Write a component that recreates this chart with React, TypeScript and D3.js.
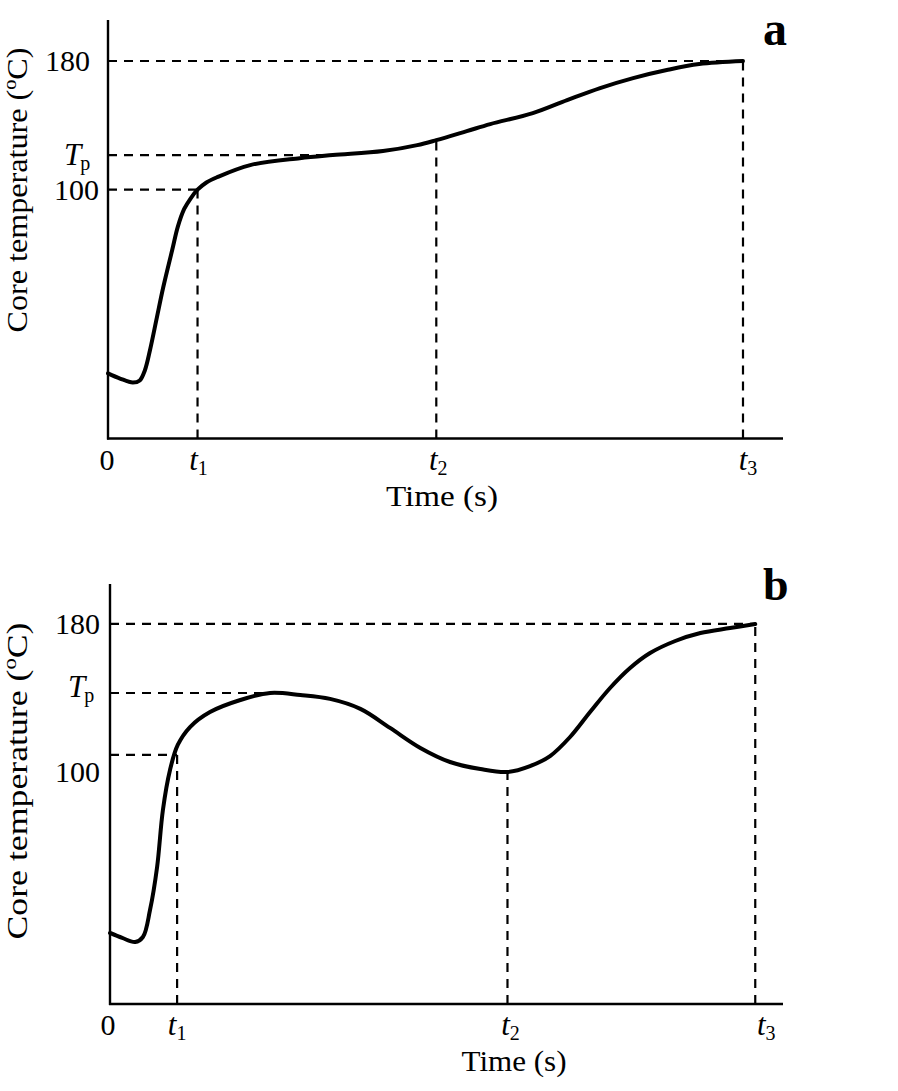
import React from "react";
import * as d3 from "d3";

// ---------- DATA ----------
// Panel a: core temperature curve (time in arbitrary units, t3 = 100)
const timeA = [0, 1.9, 3.9, 5.0, 5.8, 6.6, 7.7, 8.7, 10.1, 11.0, 12.0, 13.0, 14.1, 15.5, 17.2, 22.4, 30.2, 35.4, 43.3, 48.7, 51.7, 56.5, 60.2, 66.9, 72.3, 77.5, 82.7, 88.0, 93.1, 100];
const tempA = [-14.2, -17.4, -19.9, -18.6, -12.4, 0, 20.6, 39.3, 62.3, 77.0, 88.0, 94.5, 100, 104.5, 107.8, 115.3, 119.6, 121.5, 124.0, 127.7, 130.8, 136.4, 140.8, 147.6, 155.7, 163.2, 169.4, 174.4, 178.1, 180];
const levelTempsA = [180, 121.5, 100];
const levelEndTimesA = [100, 35.4, 14.1];
const markTimesA = [14.1, 51.7, 100];
const markTempsA = [100, 130.8, 180];
const yTickValuesA = [180, 121.5, 100];
const xDomainA = [0, 106.3];
const yDomainA = [-54.7, 205.5];

// Panel b
const timeB = [0, 1.9, 3.9, 5.1, 6.2, 7.3, 8.2, 9.3, 10.5, 12.4, 15.5, 20.2, 24.8, 29.5, 34.1, 38.8, 43.4, 48.1, 52.7, 57.4, 61.6, 65.1, 68.2, 71.3, 74.4, 77.5, 80.6, 83.7, 87.6, 91.5, 96.1, 100];
const tempB = [13.0, 10.3, 8.1, 10.8, 25.4, 48.7, 79.5, 101.1, 114.6, 124.3, 132.4, 138.9, 142.7, 141.6, 139.5, 134.1, 123.8, 113.0, 105.4, 101.6, 100, 103.2, 108.6, 118.9, 132.4, 145.4, 156.2, 164.3, 170.8, 175.1, 177.8, 180];
const levelTempsB = [180, 142.7, 109.2];
const levelEndTimesB = [100, 24.8, 10.4];
const markTimesB = [10.4, 61.6, 100];
const markTempsB = [109.2, 100, 180];
const yTickValuesB = [180, 142.7, 100];
const xDomainB = [0, 104.3];
const yDomainB = [-25.4, 201.6];

const yTickLabels = ["180", "Tp", "100"];
const xTickLabels = ["0", "t1", "t2", "t3"];
const xAxisTitle = "Time (s)";
const yAxisTitle = "Core temperature (oC)";
const panelLetters = ["a", "b"];

// ---------- LAYOUT ----------
const FONT = "'Liberation Serif', 'Times New Roman', serif";

type Layout = {
  xRange: [number, number];
  yRange: [number, number];
  yTickRight: number[];
  tpDy: number;
  xLabelShift: number[];
  xTitleX: number;
  xTitleDy: number;
  xTitleLen: number;
  yTitleY: number;
  yTitleLen: number;
  letterY: number;
  letterSize: number;
};

const layoutA: Layout = {
  xRange: [108, 783],
  yRange: [438.5, 20],
  yTickRight: [90, 64, 99],
  tpDy: 10,
  xLabelShift: [-1, 1, 2, 5],
  xTitleX: 442,
  xTitleDy: 67,
  xTitleLen: 112,
  yTitleY: 190,
  yTitleLen: 285,
  letterY: 45,
  letterSize: 48,
};

const layoutB: Layout = {
  xRange: [110, 783],
  yRange: [1004, 584],
  yTickRight: [100, 68, 100],
  tpDy: 4,
  xLabelShift: [-2, 0, 3, 11],
  xTitleX: 514,
  xTitleDy: 67,
  xTitleLen: 105,
  yTitleY: 781,
  yTitleLen: 317,
  letterY: 600,
  letterSize: 46,
};

type PanelProps = {
  time: number[];
  temp: number[];
  levelTemps: number[];
  levelEndTimes: number[];
  markTimes: number[];
  markTemps: number[];
  yTickValues: number[];
  xDomain: number[];
  yDomain: number[];
  layout: Layout;
  letter: string;
};

function Panel(p: PanelProps) {
  const L = p.layout;
  const x = d3.scaleLinear().domain(p.xDomain).range(L.xRange);
  const y = d3.scaleLinear().domain(p.yDomain).range(L.yRange);
  const pts = p.time.map((t, i) => [t, p.temp[i]] as [number, number]);
  const line = d3
    .line<[number, number]>()
    .x((d) => x(d[0]))
    .y((d) => y(d[1]))
    .curve(d3.curveCatmullRom.alpha(0.5));
  const x0 = x(0);
  const yBase = L.yRange[0];
  const dash = "9 7";
  const xTickPos = [0, ...p.markTimes];

  return (
    <g>
      {p.levelTemps.map((v, i) => (
        <line
          key={"h" + i}
          x1={x0}
          x2={x(p.levelEndTimes[i])}
          y1={y(v)}
          y2={y(v)}
          stroke="#000"
          strokeWidth={2.2}
          strokeDasharray={dash}
        />
      ))}
      {p.markTimes.map((t, i) => (
        <line
          key={"v" + i}
          x1={x(t)}
          x2={x(t)}
          y1={yBase}
          y2={y(p.markTemps[i])}
          stroke="#000"
          strokeWidth={2.2}
          strokeDasharray={dash}
        />
      ))}
      <line x1={x0} x2={x0} y1={L.yRange[1]} y2={yBase + 1} stroke="#000" strokeWidth={2.4} />
      <line x1={x0 - 1} x2={L.xRange[1]} y1={yBase} y2={yBase} stroke="#000" strokeWidth={2.4} />
      <path d={line(pts) || ""} fill="none" stroke="#000" strokeWidth={4} strokeLinejoin="round" strokeLinecap="round" />

      {p.yTickValues.map((v, i) => {
        const lab = yTickLabels[i];
        if (lab === "Tp") {
          return (
            <text key={"yt" + i} x={L.yTickRight[i]} y={y(v) + L.tpDy} fontFamily={FONT} fontSize={31} textAnchor="start">
              <tspan fontStyle="italic">T</tspan>
              <tspan fontSize={20} dy={5} dx={-1}>p</tspan>
            </text>
          );
        }
        return (
          <text key={"yt" + i} x={L.yTickRight[i]} y={y(v) + 10} fontFamily={FONT} fontSize={30} textAnchor="end">
            {lab}
          </text>
        );
      })}

      {xTickPos.map((t, i) => {
        const lab = xTickLabels[i];
        const xx = x(t) + L.xLabelShift[i];
        if (lab === "0") {
          return (
            <text key={"xt" + i} x={xx} y={yBase + 31} fontFamily={FONT} fontSize={30} textAnchor="middle">
              0
            </text>
          );
        }
        return (
          <text key={"xt" + i} x={xx} y={yBase + 31} fontFamily={FONT} fontSize={31} textAnchor="middle">
            <tspan fontStyle="italic">{lab[0]}</tspan>
            <tspan fontSize={20} dy={5}>{lab.slice(1)}</tspan>
          </text>
        );
      })}

      <text
        x={L.xTitleX}
        y={yBase + L.xTitleDy}
        fontFamily={FONT}
        fontSize={30}
        textAnchor="middle"
        textLength={L.xTitleLen}
        lengthAdjust="spacingAndGlyphs"
      >
        {xAxisTitle}
      </text>
      <text
        transform={`translate(27,${L.yTitleY}) rotate(-90)`}
        fontFamily={FONT}
        fontSize={30}
        textAnchor="middle"
        textLength={L.yTitleLen}
        lengthAdjust="spacingAndGlyphs"
      >
        {yAxisTitle.split("(o")[0]}(
        <tspan fontSize={19} dy={-11}>o</tspan>
        <tspan dy={11}>{"C)"}</tspan>
      </text>

      <text x={763} y={L.letterY} fontFamily={FONT} fontSize={L.letterSize} fontWeight="bold" textAnchor="start">
        {p.letter}
      </text>
    </g>
  );
}

export default function App() {
  return (
    <svg
      width={898}
      height={1091}
      viewBox="0 0 898 1091"
      style={{ position: "absolute", left: 0, top: 0, background: "#fff" }}
    >
      <rect x={0} y={0} width={898} height={1091} fill="#fff" />
      <Panel
        time={timeA}
        temp={tempA}
        levelTemps={levelTempsA}
        levelEndTimes={levelEndTimesA}
        markTimes={markTimesA}
        markTemps={markTempsA}
        yTickValues={yTickValuesA}
        xDomain={xDomainA}
        yDomain={yDomainA}
        layout={layoutA}
        letter={panelLetters[0]}
      />
      <Panel
        time={timeB}
        temp={tempB}
        levelTemps={levelTempsB}
        levelEndTimes={levelEndTimesB}
        markTimes={markTimesB}
        markTemps={markTempsB}
        yTickValues={yTickValuesB}
        xDomain={xDomainB}
        yDomain={yDomainB}
        layout={layoutB}
        letter={panelLetters[1]}
      />
    </svg>
  );
}
